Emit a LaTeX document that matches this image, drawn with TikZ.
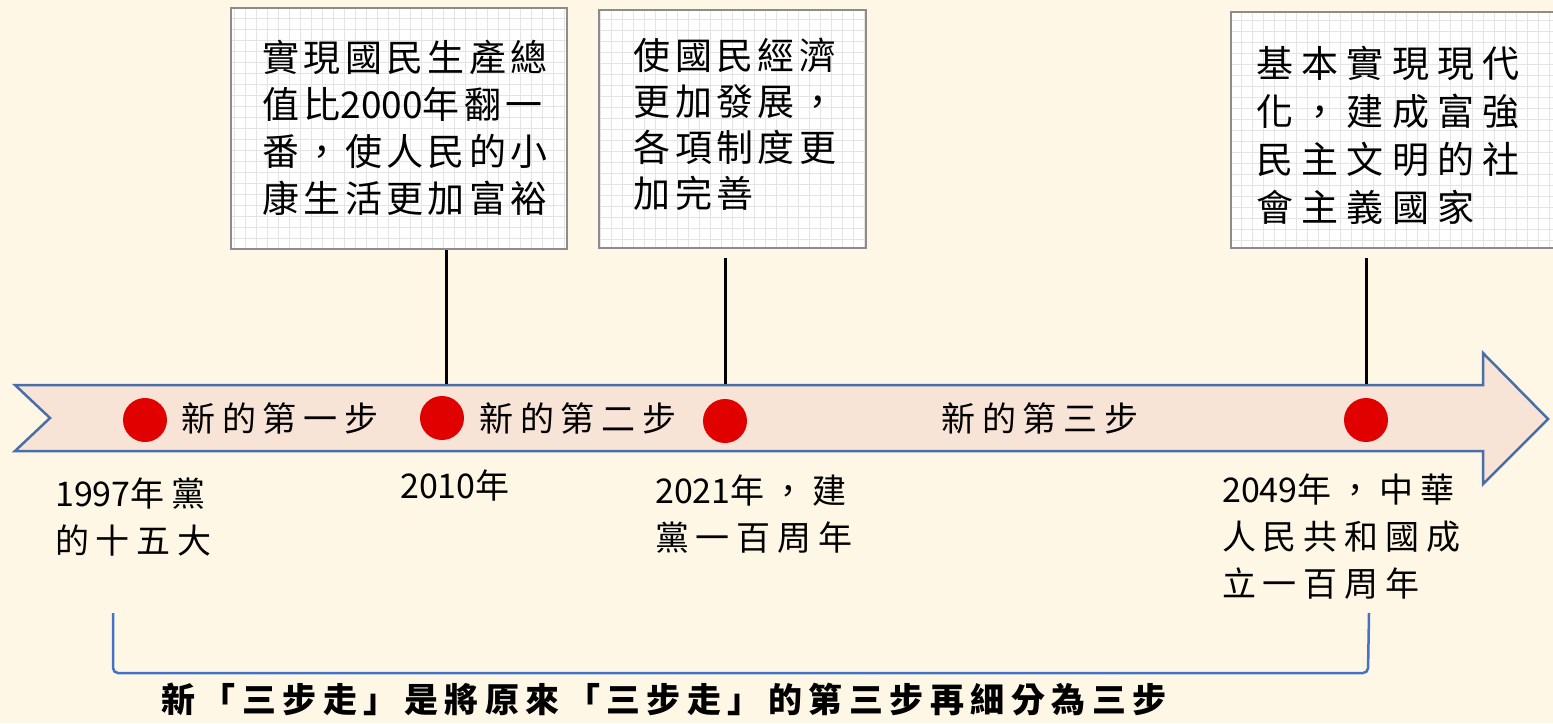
\documentclass[tikz,border=0pt]{standalone}
\usepackage{fontspec}
\newfontfamily\cjkbox[LetterSpace=12]{Noto Sans CJK TC}
\newfontfamily\cjkboxw[LetterSpace=22]{Noto Sans CJK TC}
\newfontfamily\cjklab[LetterSpace=20]{Noto Sans CJK TC}
\newfontfamily\cjkcap[LetterSpace=19]{Noto Sans CJK TC}
\newfontfamily\cjkplain{Noto Sans CJK TC}
\newcommand{\dg}[1]{{\cjkplain #1}}
\definecolor{bg}{HTML}{FFF7E6}
\definecolor{arrowfill}{HTML}{F8E3D7}
\definecolor{arrowline}{HTML}{4A6EA8}
\definecolor{bracecol}{HTML}{4472C4}
\definecolor{dotred}{HTML}{E00000}
\definecolor{boxgray}{HTML}{8C8C8C}
\definecolor{gridcol}{HTML}{E4E4E4}
\begin{document}
\begin{tikzpicture}[x=1pt,y=-1pt,
  note/.style={draw=boxgray, line width=2.5pt, fill=white, inner sep=0pt,
    path picture={\draw[gridcol, line width=0.7pt, step=11pt]
      (path picture bounding box.south west) grid (path picture bounding box.north east);}},
  notetext/.style={align=left, inner sep=0pt, font=\cjkbox\fontsize{37pt}{47pt}\selectfont},
  dot/.style={circle, fill=dotred, minimum size=44pt, inner sep=0pt},
  steplabel/.style={inner sep=0pt, font=\cjklab\fontsize{34pt}{40pt}\selectfont},
  yearlabel/.style={align=left, inner sep=0pt, anchor=base west, font=\cjklab\fontsize{34pt}{47pt}\selectfont},
  stem/.style={line width=3pt, black},
  brace/.style={draw=bracecol, line width=2.5pt, rounded corners=5pt}
]
\useasboundingbox (0,0) rectangle (1553,723);
\fill[bg] (0,0) rectangle (1553,723);

% timeline arrow
\draw[fill=arrowfill, draw=arrowline, line width=2.5pt, line join=miter]
  (15,385) -- (1483,385) -- (1483,353) -- (1548,419) -- (1483,484)
  -- (1483,451) -- (15,451) -- (50,418) -- cycle;

% boxes
\node[note, minimum width=336pt, minimum height=241pt] (b1) at (399,128.5) {};
\node[note, minimum width=267pt, minimum height=238pt] (b2) at (732.5,129) {};
\node[note, minimum width=329pt, minimum height=236pt] (b3) at (1395.5,130) {};

\node[notetext] (t1) at (405,128) {實現國民生產總\\值比\dg{2000}年翻一\\番，使人民的小\\康生活更加富裕};
\node[notetext, font=\cjkbox\fontsize{37pt}{46pt}\selectfont] (t2) at (735,124) {使國民經濟\\更加發展，\\各項制度更\\加完善};
\node[notetext, font=\cjkboxw\fontsize{37pt}{48pt}\selectfont] (t3) at (1388,135) {基本實現現代\\化，建成富強\\民主文明的社\\會主義國家};

% anchor points on the arrow body
\coordinate (a1) at (446,384);
\coordinate (a2) at (725,384);
\coordinate (a3) at (1366,384);
\coordinate (s2) at (725,258);
\coordinate (s3) at (1366,258);

\draw[stem] (b1.south -| a1) -- (a1);
\draw[stem] (s2) -- (a2);
\draw[stem] (s3) -- (a3);

% dots
\node[dot] (d1) at (145,420) {};
\node[dot] (d2) at (442,418) {};
\node[dot] (d3) at (725,421) {};
\node[dot] (d4) at (1366,420) {};

% step labels
\node[steplabel] (l1) at (280,418) {新的第一步};
\node[steplabel] (l2) at (578,418) {新的第二步};
\node[steplabel] (l3) at (1040,418) {新的第三步};

% year labels (anchor = baseline of last line)
\node[yearlabel] (y1) at (55,553) {\dg{1997}年黨\\的十五大};
\node[yearlabel] (y2) at (400,498) {\dg{2010}年};
\node[yearlabel] (y3) at (655,550) {\dg{2021}年，建\\黨一百周年};
\node[yearlabel] (y4) at (1222,596) {\dg{2049}年，中華\\人民共和國成\\立一百周年};

% bracket
\coordinate (k1) at (113,613);
\coordinate (k2) at (1369,613);
\draw[brace] (k1) -- (113,673) -- (1368,673) -- (k2);

\node[inner sep=0pt, font=\cjkcap\bfseries\fontsize{34pt}{40pt}\selectfont] (cap) at (664,700) {新「三步走」是將原來「三步走」的第三步再細分為三步};
\end{tikzpicture}
\end{document}
